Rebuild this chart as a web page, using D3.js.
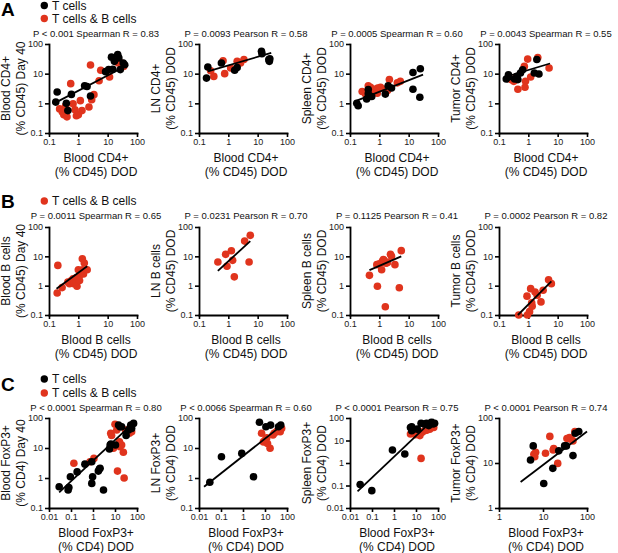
<!DOCTYPE html>
<html><head><meta charset="utf-8">
<script src="https://cdn.jsdelivr.net/npm/d3@7"></script>
<style>
body{margin:0;background:#fff}
svg{display:block;font-family:"Liberation Sans",Arial,Helvetica,sans-serif}
</style>
</head><body>
<svg id="chart" width="618" height="553"></svg>
<script>
// ---------- data (x = DOD value, y = comparison value) ----------
const a1Black = [[0.19,2.4],[0.17,1.1],[0.39,1.0],[0.44,0.57],[0.58,2.0],[1.64,3.9],[1.98,3.7],[2.6,1.77],[8.5,11.7],[10.8,13.7],[13.5,36],[15,14],[17,26],[22,44],[24,34],[34,23],[27,13.7],[38,20]];
const a1Red = [[0.23,0.65],[0.285,0.51],[0.32,0.41],[0.37,0.83],[0.41,0.35],[0.55,4.6],[0.66,0.97],[0.77,0.61],[0.86,0.38],[1.0,0.41],[1.17,1.23],[1.33,0.57],[2.3,0.75],[2.85,1.33],[3.4,1.96],[2.6,19.6],[5.1,5.8],[5.8,13],[11.6,7.7],[23,23],[35,17.6],[29,23]];
const a1Fit = [[0.18,1.1],[50,20]];

const a2Black = [[0.18,7.1],[0.2,16.8],[0.58,23],[1.64,13],[2.0,16],[13.5,57],[14,47],[24,30],[25,26],[26,32]];
const a2Red = [[0.25,12.6],[0.32,8.1],[0.66,27],[0.75,10],[1.2,15.5],[2.0,26],[2.6,23],[3.4,30]];
const a2Fit = [[0.2,12],[29,50]];

const a3Black = [[0.17,1.0],[0.19,0.83],[0.37,1.4],[0.42,2.9],[0.42,2.1],[0.55,1.7],[1.6,2.05],[2.0,3.9],[2.6,3.3],[14,11],[14,3.0],[25,14.7],[24,1.6]];
const a3Red = [[0.26,2.5],[0.33,2.2],[0.35,2.0],[0.42,3.9],[0.5,3.5],[0.55,2.9],[0.68,3.0],[0.88,3.3],[1.1,3.5],[1.5,3.0],[2.2,6.3],[4.1,4.9],[5.2,5.5],[1.9,2.7],[0.85,2.2]];
const a3Fit = [[0.17,1.23],[31,9.3]];

const a4Black = [[0.177,6.6],[0.21,9.2],[0.21,7.7],[0.34,6.6],[0.41,8.1],[0.44,6.3],[0.64,13.6],[0.54,10.5],[1.6,10.5],[1.95,30],[2.3,9.8]];
const a4Red = [[0.26,6.3],[0.32,5.5],[0.38,7.7],[0.44,3.0],[0.73,17.6],[0.95,31],[0.8,5.5],[0.77,3.5],[1.2,7.7],[2.1,35],[5.1,15.5]];
const a4Fit = [[0.19,8.1],[5.5,22]];

const b1Red = [[0.2,4.9],[0.19,0.56],[0.28,0.86],[0.44,1.33],[0.5,1.17],[0.58,1.5],[0.66,1.7],[0.7,1.17],[0.75,1.33],[0.86,1.9],[0.9,0.95],[0.86,1.33],[1.0,3.5],[1.1,2.2],[1.27,2.8],[1.37,8.3],[1.4,3.5],[1.5,2.5],[1.6,5.9],[2.0,3.5],[1.1,1.5]];
const b1Fit = [[0.18,0.79],[2.0,4.6]];

const b2Red = [[0.44,6.4],[0.81,11.7],[0.9,4.6],[1.27,15.5],[1.4,7.3],[1.6,2.0],[3.6,33],[5.1,6.4],[5.6,52]];
const b2Fit = [[0.44,3.2],[5.6,33]];

const b3Red = [[0.46,2.25],[0.86,0.95],[0.82,5.2],[1.0,5.6],[1.27,6.8],[1.37,7.8],[1.45,7.3],[1.6,0.19],[1.7,5.8],[1.2,3.5],[2.4,11.7],[2.6,10],[3.4,5.2],[4.8,0.85],[5.6,15.6],[1.9,6.2],[1.45,6.2]];
const b3Fit = [[0.46,3.4],[5.6,10]];

const b4Red = [[0.47,0.1],[0.93,0.1],[1.1,0.13],[1.2,0.79],[0.9,0.44],[1.35,0.2],[1.7,0.61],[2.0,0.47],[2.7,0.28],[4.9,1.6],[6.1,1.17],[3.2,0.7],[1.3,0.26]];
const b4Fit = [[0.44,0.1],[6.1,1.4]];

const c1Black = [[0.029,0.51],[0.074,0.4],[0.08,0.48],[0.094,1.1],[0.19,1.6],[0.43,2.9],[0.88,3.5],[0.88,0.66],[0.96,1.1],[1.75,1.7],[1.95,2.0],[2.1,2.1],[3.0,0.4],[5.6,9.3],[6.0,12.6],[6.5,13.6],[10.5,12.6],[14.5,58],[17,51],[20,51],[32,26],[41,40],[49,48],[57,45],[70,66],[52,58]];
const c1Red = [[0.135,3.1],[0.73,3.5],[1.1,4.5],[6.4,31],[7.0,26],[10,62],[12,40],[14.5,51],[8.5,9.8],[16,16],[17,11],[20,12.6],[24,7.2],[13,1.7],[26,1.0],[35,35],[45,31],[57,35],[30,40]];
const c1Fit = [[0.029,0.33],[70,70]];

const c2Black = [[0.031,0.72],[0.105,5.1],[0.88,6.6],[3.0,1.1],[5.6,72],[11,51],[18,58],[41,51],[52,58]];
const c2Red = [[7,31],[8.5,16],[12,22],[13,14],[17,9.8],[23,27],[26,31],[37,37],[49,35],[57,45],[33,35],[10,18]];
const c2Fit = [[0.017,0.51],[60,58]];

const c3Black = [[0.029,0.11],[0.098,0.059],[0.85,3.8],[3.1,2.5],[5.6,38],[6.4,27],[6.4,41],[11.5,32],[17,58],[23,54],[30,58],[38,46],[50,64],[60,54],[70,58]];
const c3Red = [[5.6,19.5],[7.4,23],[9.5,18],[11.5,19.5],[15,16.5],[17,1.6],[19,23],[24,27],[32,29],[42,32],[54,41],[64,38]];
const c3Fit = [[0.022,0.055],[64,90]];

const c4Black = [[5.2,11.7],[6.0,24],[10.4,3.5],[16.7,7.6],[22.8,18.6],[31,24],[34,24],[48,14.6],[54,46],[65,50]];
const c4Red = [[6.2,15.6],[6.5,13.8],[6.8,17.3],[11.4,16.5],[14.3,39],[17,19.5],[17.5,21],[21.6,9.8],[35,35],[40,37],[43,34],[48,31],[53,50],[57,48]];
const c4Fit = [[3.1,3.8],[100,50]];

// ---------- labels ----------
const titlesA = ["P < 0.001 Spearman R = 0.83","P = 0.0093 Pearson R = 0.58","P = 0.0005 Spearman R = 0.60","P = 0.0043 Spearman R = 0.55"];
const titlesB = ["P = 0.0011 Spearman R = 0.65","P = 0.0231 Pearson R = 0.70","P = 0.1125 Pearson R = 0.41","P = 0.0002 Pearson R = 0.82"];
const titlesC = ["P < 0.0001 Spearman R = 0.80","P < 0.0066 Spearman R = 0.60","P < 0.0001 Pearson R = 0.75","P < 0.0001 Pearson R = 0.74"];
const yLabelsA = [["Blood CD4+","(% CD45) Day 40"],["LN CD4+","(% CD45) DOD"],["Spleen CD4+","(% CD45) DOD"],["Tumor CD4+","(% CD45) DOD"]];
const yLabelsB = [["Blood B cells","(% CD45) Day 40"],["LN B cells","(% CD45) DOD"],["Spleen B cells","(% CD45) DOD"],["Tumor B cells","(% CD45) DOD"]];
const yLabelsC = [["Blood FoxP3+","(% CD4) Day 40"],["LN FoxP3+","(% CD4) DOD"],["Spleen FoxP3+","(% CD4) DOD"],["Tumor FoxP3+","(% CD4) DOD"]];
const xLabelA = ["Blood CD4+","(% CD45) DOD"];
const xLabelB = ["Blood B cells","(% CD45) DOD"];
const xLabelC = ["Blood FoxP3+","(% CD4) DOD"];
const ticks01to100 = [0.1,1,10,100];
const ticks001to100 = [0.01,0.1,1,10,100];
const ticks1to100 = [1,10,100];
const legendA = ["T cells","T cells & B cells"];
const legendB = ["T cells & B cells"];
const legendC = ["T cells","T cells & B cells"];
const rowLetters = ["A","B","C"];

// ---------- layout ----------
const BLACK = "#000000", RED = "#e0341d";
const colLeft = [49,199,350,499];
const plotW = 88;
const rowTop = [44,227,418];
const rowH = [89,88,90];
const titleOff = [7.5,8,7];
const R = 3.8;
const LABEL_FS = 12;

const panels = [
  {r:0,c:0,black:a1Black,red:a1Red,fit:a1Fit,xd:[0.1,100],yd:[0.1,100],xt:ticks01to100,yt:ticks01to100,title:titlesA[0],yl:yLabelsA[0],xl:xLabelA},
  {r:0,c:1,black:a2Black,red:a2Red,fit:a2Fit,xd:[0.1,100],yd:[0.1,100],xt:ticks01to100,yt:ticks01to100,title:titlesA[1],yl:yLabelsA[1],xl:xLabelA},
  {r:0,c:2,black:a3Black,red:a3Red,fit:a3Fit,xd:[0.1,100],yd:[0.1,100],xt:ticks01to100,yt:ticks01to100,title:titlesA[2],yl:yLabelsA[2],xl:xLabelA},
  {r:0,c:3,black:a4Black,red:a4Red,fit:a4Fit,xd:[0.1,100],yd:[0.1,100],xt:ticks01to100,yt:ticks01to100,title:titlesA[3],yl:yLabelsA[3],xl:xLabelA},
  {r:1,c:0,black:[],red:b1Red,fit:b1Fit,xd:[0.1,100],yd:[0.1,100],xt:ticks01to100,yt:ticks01to100,title:titlesB[0],yl:yLabelsB[0],xl:xLabelB},
  {r:1,c:1,black:[],red:b2Red,fit:b2Fit,xd:[0.1,100],yd:[0.1,100],xt:ticks01to100,yt:ticks01to100,title:titlesB[1],yl:yLabelsB[1],xl:xLabelB},
  {r:1,c:2,black:[],red:b3Red,fit:b3Fit,xd:[0.1,100],yd:[0.1,100],xt:ticks01to100,yt:ticks01to100,title:titlesB[2],yl:yLabelsB[2],xl:xLabelB},
  {r:1,c:3,black:[],red:b4Red,fit:b4Fit,xd:[0.1,100],yd:[0.1,100],xt:ticks01to100,yt:ticks01to100,title:titlesB[3],yl:yLabelsB[3],xl:xLabelB},
  {r:2,c:0,black:c1Black,red:c1Red,fit:c1Fit,xd:[0.01,100],yd:[0.1,100],xt:ticks001to100,yt:ticks01to100,title:titlesC[0],yl:yLabelsC[0],xl:xLabelC},
  {r:2,c:1,black:c2Black,red:c2Red,fit:c2Fit,xd:[0.01,100],yd:[0.1,100],xt:ticks001to100,yt:ticks01to100,title:titlesC[1],yl:yLabelsC[1],xl:xLabelC},
  {r:2,c:2,black:c3Black,red:c3Red,fit:c3Fit,xd:[0.01,100],yd:[0.01,100],xt:ticks001to100,yt:ticks001to100,title:titlesC[2],yl:yLabelsC[2],xl:xLabelC},
  {r:2,c:3,black:c4Black,red:c4Red,fit:c4Fit,xd:[1,100],yd:[1,100],xt:ticks1to100,yt:ticks1to100,title:titlesC[3],yl:yLabelsC[3],xl:xLabelC}
];

const svg = d3.select("#chart");
const fmt = d => String(d);

panels.forEach(p => {
  const left = colLeft[p.c], top = rowTop[p.r], H = rowH[p.r];
  const x = d3.scaleLog().domain(p.xd).range([left, left + plotW]);
  const y = d3.scaleLog().domain(p.yd).range([top + H, top]);
  const g = svg.append("g");

  const gx = g.append("g").attr("transform", `translate(0,${top + H})`)
    .call(d3.axisBottom(x).tickValues(p.xt).tickFormat(fmt).tickSizeInner(4).tickSizeOuter(0).tickPadding(2));
  const gy = g.append("g").attr("transform", `translate(${left},0)`)
    .call(d3.axisLeft(y).tickValues(p.yt).tickFormat(fmt).tickSizeInner(4).tickSizeOuter(0).tickPadding(2));
  [gx, gy].forEach(a => {
    a.select(".domain").attr("stroke", "#000").attr("stroke-width", 1.8).attr("stroke-linecap","square");
    a.selectAll(".tick line").attr("stroke", "#000").attr("stroke-width", 1.6);
    a.selectAll(".tick text").attr("font-size", 9).attr("fill", "#222")
      .attr("font-family", "'Liberation Sans',Arial,sans-serif");
  });

  // points: red first, then black
  g.append("g").selectAll("circle").data(p.red).join("circle")
    .attr("cx", d => x(d[0])).attr("cy", d => y(d[1])).attr("r", R).attr("fill", RED);
  g.append("g").selectAll("circle").data(p.black).join("circle")
    .attr("cx", d => x(d[0])).attr("cy", d => y(d[1])).attr("r", R).attr("fill", BLACK);

  // fit line
  g.append("path").datum(p.fit)
    .attr("d", d3.line().x(d => x(d[0])).y(d => y(d[1])))
    .attr("stroke", "#000").attr("stroke-width", 1.8).attr("fill", "none");

  const cx = left + plotW / 2 + 3;
  // title
  g.append("text").attr("x", cx).attr("y", top - titleOff[p.r])
    .attr("text-anchor", "middle").attr("font-size", 9.5).attr("fill", "#111").text(p.title);
  // x label
  g.append("text").attr("x", cx).attr("y", top + H + 28.5)
    .attr("text-anchor", "middle").attr("font-size", LABEL_FS).attr("fill", "#111").text(p.xl[0]);
  g.append("text").attr("x", cx).attr("y", top + H + 43)
    .attr("text-anchor", "middle").attr("font-size", LABEL_FS).attr("fill", "#111").text(p.xl[1]);
  // y label (rotated)
  const cy = top + H / 2;
  g.append("text").attr("transform", `translate(${left - 39},${cy}) rotate(-90)`)
    .attr("text-anchor", "middle").attr("font-size", LABEL_FS).attr("fill", "#111").text(p.yl[0]);
  g.append("text").attr("transform", `translate(${left - 24.5},${cy}) rotate(-90)`)
    .attr("text-anchor", "middle").attr("font-size", LABEL_FS).attr("fill", "#111").text(p.yl[1]);
});

// row letters and legends
const letterY = [16, 208, 391];
const legendRows = [
  {items: legendA, colors: [BLACK, RED], ys: [5.5, 18.5]},
  {items: legendB, colors: [RED], ys: [201]},
  {items: legendC, colors: [BLACK, RED], ys: [379, 393]}
];
rowLetters.forEach((L, i) => {
  svg.append("text").attr("x", 1).attr("y", letterY[i]).attr("font-size", 19).attr("font-weight", "bold")
    .attr("fill", "#000").text(L);
  const lg = legendRows[i];
  lg.items.forEach((t, j) => {
    svg.append("circle").attr("cx", 44.3).attr("cy", lg.ys[j]).attr("r", 3.7).attr("fill", lg.colors[j]);
    svg.append("text").attr("x", 52).attr("y", lg.ys[j] + 4.2).attr("font-size", 12).attr("fill", "#111").text(t);
  });
});
</script>
</body></html>
